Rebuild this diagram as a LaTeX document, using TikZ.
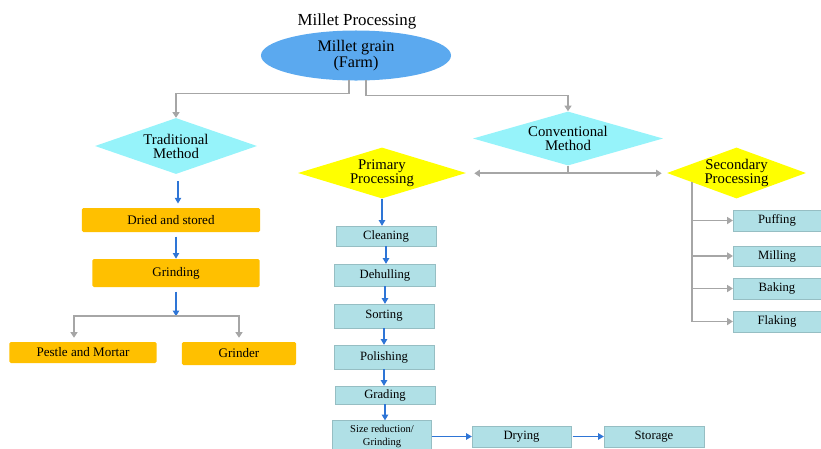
\documentclass[tikz,border=0pt]{standalone}
\usepackage{fontspec}
\setmainfont{Liberation Serif}
\usetikzlibrary{shapes.geometric,arrows.meta}
\definecolor{farmblue}{RGB}{91,169,239}
\definecolor{methodcyan}{RGB}{150,243,250}
\definecolor{procyellow}{RGB}{255,255,0}
\definecolor{tradorange}{RGB}{255,192,0}
\definecolor{stepblue}{RGB}{176,224,230}
\definecolor{linegray}{RGB}{166,166,166}
\definecolor{arrowblue}{RGB}{46,117,214}
\begin{document}
\begin{tikzpicture}[x=0.025cm,y=-0.025cm,
	method/.style={diamond,fill=methodcyan,inner sep=0pt,align=center,font=\fontsize{10.5}{10}\selectfont},
	process/.style={method,fill=procyellow},
	tradbox/.style={fill=tradorange,rounded corners=1pt,inner sep=0pt,font=\fontsize{9.3}{10}\selectfont},
	stepbox/.style={fill=stepblue,draw=stepblue!85!black,line width=0.2pt,inner sep=0pt,align=center,font=\fontsize{9}{10}\selectfont},
	gline/.style={draw=linegray,line width=1.2pt},
	garrow/.style={gline,-{Triangle[width=5pt,length=4pt]}},
	barrow/.style={draw=arrowblue,line width=0.8pt,-{Triangle[width=4.5pt,length=4pt]}}]
	\useasboundingbox (0,0) rectangle (821,448);
	\clip (0,0) rectangle (821,448);
	\node[font=\fontsize{12}{12}\selectfont] (title) at (357,21) {Millet Processing};
	\node[ellipse,fill=farmblue,inner sep=0pt,minimum width=4.75cm,minimum height=1.25cm,align=center,font=\fontsize{11.5}{11}\selectfont] (farm) at (356,55.5) {Millet grain\\(Farm)};
	\node[method,aspect=2.89,minimum width=4.05cm,minimum height=1.4cm] (trad) at (176,146) {Traditional\\Method};
	\node[method,aspect=3.52,minimum width=4.75cm,minimum height=1.35cm] (conv) at (568,138.5) {Conventional\\Method};
	\node[process,aspect=3.29,minimum width=4.2cm,minimum height=1.275cm] (prim) at (382,173) {Primary\\Processing};
	\node[process,aspect=2.73,minimum width=3.475cm,minimum height=1.275cm] (sec) at (736.5,173) {Secondary\\Processing};
	\node[tradbox,minimum width=4.45cm,minimum height=0.6cm] (dried) at (171,220) {Dried and stored};
	\node[tradbox,minimum width=4.175cm,minimum height=0.7cm] (grind) at (176,273) {Grinding};
	\node[tradbox,minimum width=3.675cm,minimum height=0.525cm] (pestle) at (83,352.5) {Pestle and Mortar};
	\node[tradbox,minimum width=2.85cm,minimum height=0.575cm] (grinder) at (239,353.5) {Grinder};
	\node[stepbox,minimum width=2.5cm,minimum height=0.5cm] (clean) at (386,236) {Cleaning};
	\node[stepbox,minimum width=2.525cm,minimum height=0.55cm] (dehull) at (385,275) {Dehulling};
	\node[stepbox,minimum width=2.5cm,minimum height=0.6cm] (sort) at (384,316) {Sorting};
	\node[stepbox,minimum width=2.5cm,minimum height=0.6cm] (polish) at (384,357) {Polishing};
	\node[stepbox,minimum width=2.5cm,minimum height=0.45cm] (grade) at (385,395) {Grading};
	\node[stepbox,minimum width=2.475cm,minimum height=0.8cm,font=\fontsize{7.5}{9}\selectfont] (sizered) at (382,436.5) {Size reduction/\\Grinding};
	\node[stepbox,minimum width=2.475cm,minimum height=0.525cm] (dry) at (521.5,436.5) {Drying};
	\node[stepbox,minimum width=2.5cm,minimum height=0.525cm] (store) at (654,437) {Storage};
	\node[stepbox,minimum width=2.2cm,minimum height=0.525cm] (puff) at (777,220.5) {Puffing};
	\node[stepbox,minimum width=2.2cm,minimum height=0.5cm] (mill) at (777,256) {Milling};
	\node[stepbox,minimum width=2.2cm,minimum height=0.525cm] (bake) at (777,288.5) {Baking};
	\node[stepbox,minimum width=2.2cm,minimum height=0.525cm] (flake) at (777,321.5) {Flaking};
	\coordinate (farml) at (349,79.5);
	\coordinate (farmr) at (366,79.5);
	\coordinate (sectap) at (692,182);
	\draw[garrow] (farml) -- ++(0,14) -| (trad.north);
	\draw[garrow] (farmr) -- ++(0,16) -| (conv.north);
	\draw[gline] (conv.south) -- ++(0,7.5) coordinate (convsplit);
	\draw[garrow] (convsplit) -- ([xshift=0.2cm]prim.east |- convsplit);
	\draw[garrow] (convsplit) -- ([xshift=-0.125cm]sec.west |- convsplit);
	\draw[barrow,shorten <=5pt,shorten >=3pt] ([xshift=0.05cm]trad.south) -- ([xshift=0.05cm]trad.south |- dried.north);
	\draw[barrow,shorten <=3pt] (grind.north |- dried.south) -- (grind.north);
	\draw[barrow,shorten <=3pt] (grind.south) -- ++(0,29) coordinate (grindsplit);
	\draw[garrow] (grindsplit) -| ([xshift=-0.225cm,yshift=0.1cm]pestle.north);
	\draw[garrow] (grindsplit) -| ([yshift=0.1cm]grinder.north);
	\draw[barrow] (prim.south) -- (prim.south |- clean.north);
	\draw[barrow] (clean.south) -- (clean.south |- dehull.north);
	\draw[barrow] (dehull.south) -- (dehull.south |- sort.north);
	\draw[barrow] (sort.south) -- (sort.south |- polish.north);
	\draw[barrow] (polish.south) -- (polish.south |- grade.north);
	\draw[barrow] (grade.south) -- (grade.south |- sizered.north);
	\draw[barrow] (sizered.east) -- (dry.west);
	\draw[barrow,shorten <=1pt] (dry.east) -- (dry.east -| store.west);
	\draw[gline,line width=0.8pt] (sectap) -- (sectap |- flake.west);
	\draw[garrow,line width=0.8pt] (sectap |- puff.west) -- (puff.west);
	\draw[garrow,line width=0.8pt] (sectap |- mill.west) -- (mill.west);
	\draw[garrow,line width=0.8pt] (sectap |- bake.west) -- (bake.west);
	\draw[garrow,line width=0.8pt] (sectap |- flake.west) -- (flake.west);
\end{tikzpicture}
\end{document}
